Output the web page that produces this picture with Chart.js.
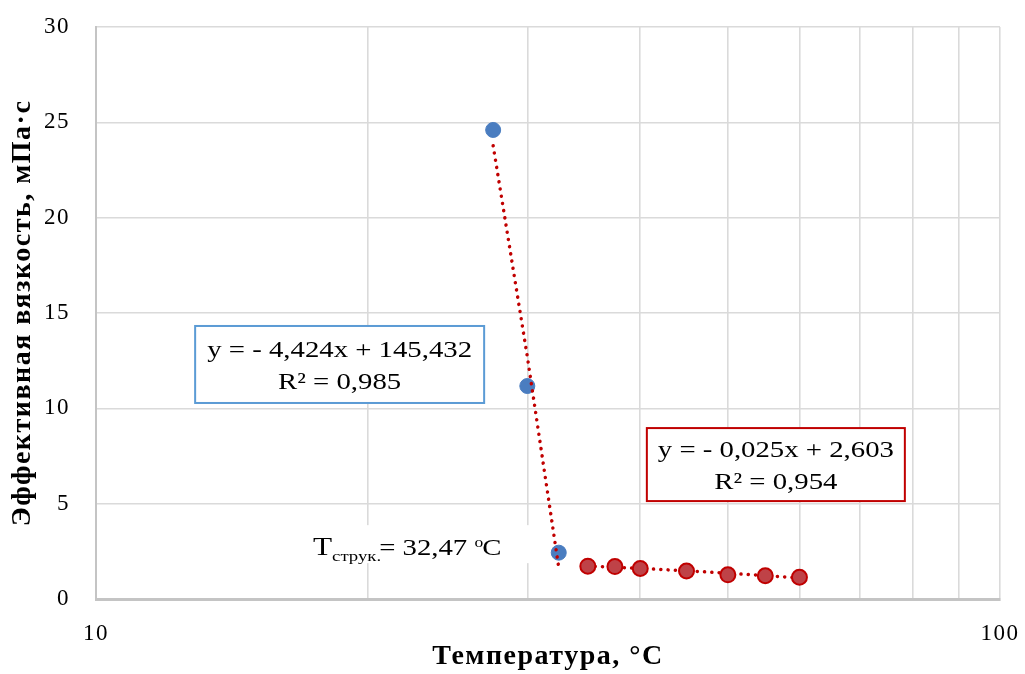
<!DOCTYPE html>
<html>
<head>
<meta charset="utf-8">
<script src="https://cdn.jsdelivr.net/npm/chart.js@4.4.1/dist/chart.umd.min.js"></script>
<style>
  body { margin: 0; background: #fff; }
  #wrap { width: 1025px; height: 674px; }
</style>
</head>
<body>
<div id="wrap"><canvas id="myChart" width="1025" height="674"></canvas></div>
<script>
// data
const tempBlue = [27.5, 30, 32.5];
const viscBlue = [24.6, 11.17, 2.43];
const tempRed = [35, 37.5, 40, 45, 50, 55, 60];
const viscRed = [1.72, 1.70, 1.60, 1.47, 1.27, 1.22, 1.14];
// trendline coefficients (slope, intercept) as written in the boxes
const trendBlue = [-4.424, 145.432];
const trendRed = [-0.025, 2.603];
const xGridTicks = [10, 20, 30, 40, 50, 60, 70, 80, 90, 100];
const xTickLabels = [10, 100];

const serif = '"Liberation Serif", "Times New Roman", serif';
const trendColor = '#C00000';
const stretch = 1.25; // the reference text is wider than Liberation Serif

function points(xs, ys) {
    return xs.map((x, i) => ({ x: x, y: ys[i] }));
}

function trend(xs, coef) {
    return xs.map(x => ({ x: x, y: coef[0] * x + coef[1] }));
}

// text boxes, anchored in data coordinates
const boxes = [
    { x: 18.6, y: 12.3, w: 289, h: 77, border: '#5B9BD5',
      lines: ['y = - 4,424x + 145,432', 'R² = 0,985'] },
    { x: 56.5, y: 7.05, w: 258, h: 73, border: '#C00000',
      lines: ['y = - 0,025x + 2,603', 'R² = 0,954'] }
];

const spacingPlugin = {
    id: 'spacing',
    beforeDraw(chart) { chart.ctx.letterSpacing = '1.5px'; },
    afterDraw(chart) { chart.ctx.letterSpacing = '0px'; }
};

// draw text stretched horizontally from (x, y)
function wideText(ctx, text, x, y) {
    ctx.save();
    ctx.translate(x, y);
    ctx.scale(stretch, 1);
    ctx.fillText(text, 0, 0);
    ctx.restore();
    return ctx.measureText(text).width * stretch;
}

const labelsPlugin = {
    id: 'labels',
    afterDatasetsDraw(chart) {
        const ctx = chart.ctx;
        const sx = chart.scales.x, sy = chart.scales.y;
        ctx.save();
        ctx.letterSpacing = '0px';
        boxes.forEach(b => {
            const cx = sx.getPixelForValue(b.x);
            const cy = sy.getPixelForValue(b.y);
            const l = cx - b.w / 2, t = cy - b.h / 2;
            ctx.fillStyle = '#fff';
            ctx.fillRect(l, t, b.w, b.h);
            ctx.strokeStyle = b.border;
            ctx.lineWidth = 2;
            ctx.strokeRect(l, t, b.w, b.h);
            ctx.fillStyle = '#000';
            ctx.font = '23px ' + serif;
            ctx.textAlign = 'center';
            ctx.textBaseline = 'middle';
            wideText(ctx, b.lines[0], cx, cy - 14);
            wideText(ctx, b.lines[1], cx, cy + 18);
        });

        // T струк. label
        const lx = sx.getPixelForValue(17.38);
        const ly = sy.getPixelForValue(2.3);
        ctx.fillStyle = '#fff';
        ctx.fillRect(lx - 12, ly - 30, 234, 38);
        ctx.fillStyle = '#000';
        ctx.textAlign = 'left';
        ctx.textBaseline = 'alphabetic';
        let px = lx;
        ctx.font = '25px ' + serif;
        px += wideText(ctx, 'T', px, ly);
        ctx.font = '15px ' + serif;
        px += wideText(ctx, 'струк.', px, ly + 6) - 2;
        ctx.font = '23px ' + serif;
        px += wideText(ctx, '= 32,47 ', px, ly);
        ctx.font = '14px ' + serif;
        px += wideText(ctx, 'o', px, ly - 8) - 1;
        ctx.font = '23px ' + serif;
        wideText(ctx, 'C', px, ly);
        ctx.restore();
    }
};

const data = {
    datasets: [{
        label: 'trend blue',
        type: 'line',
        data: trend(tempBlue, trendBlue),
        borderColor: trendColor,
        borderWidth: 3.5,
        borderDash: [0.1, 7.2],
        borderCapStyle: 'round',
        pointRadius: 0,
        fill: false
    },
    {
        label: 'blue',
        data: points(tempBlue, viscBlue),
        backgroundColor: '#4A7DC0',
        borderColor: '#4A7DC0',
        borderWidth: 1,
        pointRadius: 7.5
    },
    {
        label: 'red',
        data: points(tempRed, viscRed),
        backgroundColor: '#BF4247',
        borderColor: '#C00000',
        borderWidth: 2,
        pointRadius: 7.5
    },
    {
        label: 'trend red',
        type: 'line',
        data: trend(tempRed, trendRed),
        borderColor: trendColor,
        borderWidth: 3.5,
        borderDash: [0.1, 7.2],
        borderCapStyle: 'round',
        pointRadius: 0,
        fill: false
    }]
};

const config = {
    type: 'scatter',
    data: data,
    options: {
        responsive: false,
        animation: false,
        layout: { padding: { top: 27, right: 25, left: 0, bottom: 0 } },
        plugins: {
            legend: { display: false },
            tooltip: { enabled: false }
        },
        scales: {
            x: {
                type: 'logarithmic',
                min: 10,
                max: 100,
                afterBuildTicks(scale) {
                    scale.ticks = xGridTicks.map(v => ({ value: v }));
                },
                afterFit(scale) { scale.height = 75; },
                border: { color: '#C4C4C4', width: 3 },
                grid: {
                    color: '#DADADA', lineWidth: 1.6,
                    drawTicks: true, tickLength: 19, tickColor: 'rgba(0,0,0,0)'
                },
                ticks: {
                    autoSkip: false,
                    maxRotation: 0,
                    padding: 2,
                    color: '#000',
                    font: { family: serif, size: 23 },
                    callback: v => xTickLabels.includes(v) ? String(v) : ''
                },
                title: {
                    display: true,
                    text: 'Температура, °С',
                    color: '#000',
                    font: { family: serif, size: 28, weight: 'bold' },
                    padding: { top: 0, bottom: 0 }
                }
            },
            y: {
                min: 0,
                max: 30,
                afterFit(scale) { scale.width = 96; },
                border: { color: '#C4C4C4', width: 2 },
                grid: {
                    color: '#DADADA', lineWidth: 1.6,
                    drawTicks: true, tickLength: 24, tickColor: 'rgba(0,0,0,0)'
                },
                ticks: {
                    stepSize: 5,
                    padding: 2,
                    color: '#000',
                    font: { family: serif, size: 23 }
                },
                title: {
                    display: true,
                    text: 'Эффективная вязкость, мПа·с',
                    color: '#000',
                    font: { family: serif, size: 28, weight: 'bold' },
                    padding: { top: 6, bottom: 0 }
                }
            }
        }
    },
    plugins: [spacingPlugin, labelsPlugin]
};

const myChart = new Chart(document.getElementById('myChart'), config);
</script>
</body>
</html>
